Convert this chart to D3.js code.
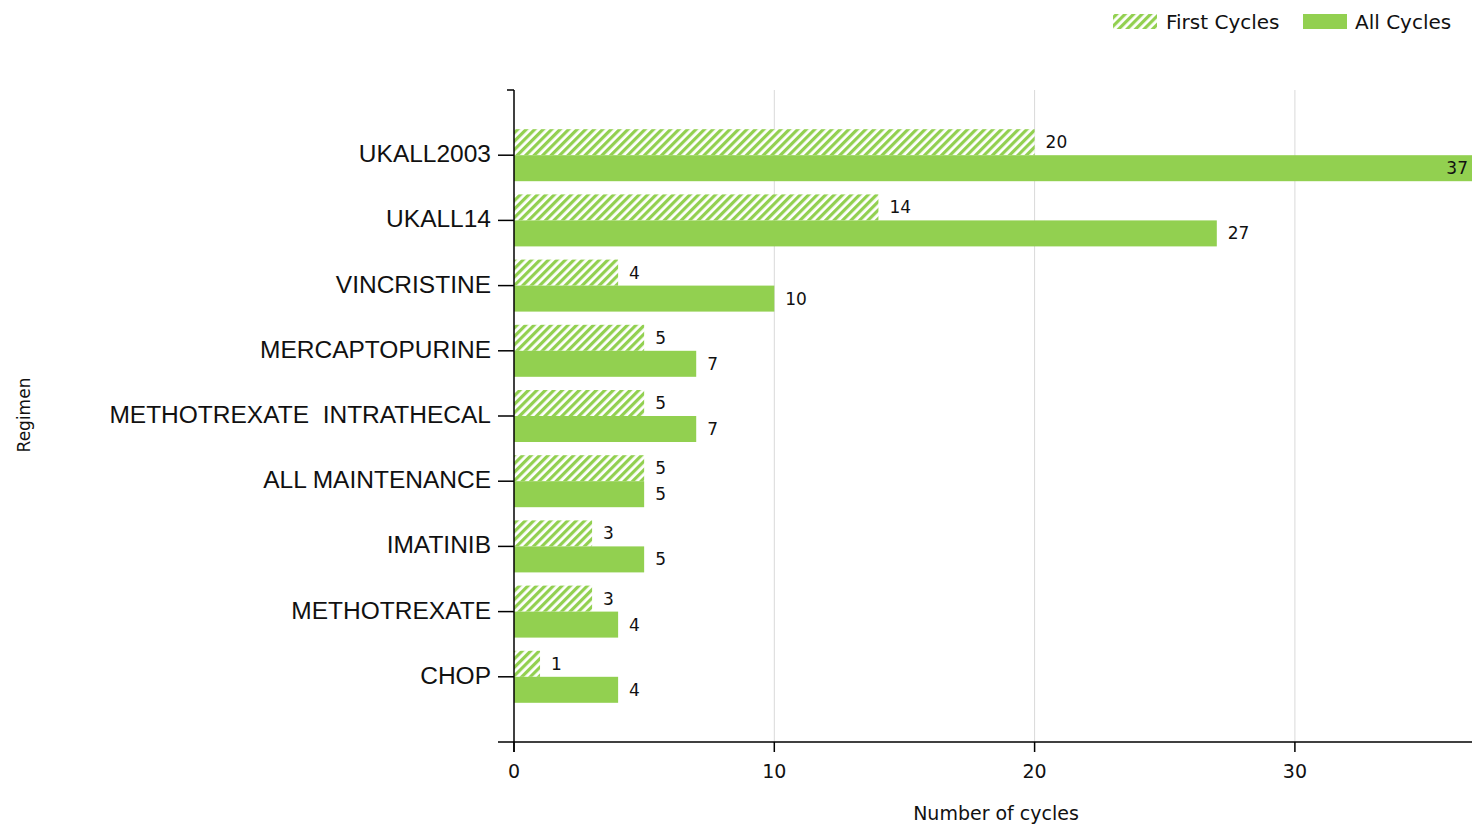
<!DOCTYPE html>
<html lang="en">
<meta charset="utf-8">
<style>
body { margin: 0; background: #fff; }
svg { font-family: "Liberation Sans", Arial, sans-serif; }
.grid line { stroke: #d9d9d9; stroke-width: 1px; }
.dv { font-family: "DejaVu Sans", Verdana, sans-serif; }
</style>
<body>
<script src="https://d3js.org/d3.v7.min.js"></script>
<script>
var regimens = ["UKALL2003", "UKALL14", "VINCRISTINE", "MERCAPTOPURINE", "METHOTREXATE  INTRATHECAL",
                "ALL MAINTENANCE", "IMATINIB", "METHOTREXATE", "CHOP"];
var firstCycles = [20, 14, 4, 5, 5, 5, 3, 3, 1];
var allCycles = [37, 27, 10, 7, 7, 5, 5, 4, 4];
var xTicks = [0, 10, 20, 30];

var W = 1472, H = 825;
var green = "#92d050";

var svg = d3.select("body").append("svg")
    .attr("width", W)
    .attr("height", H);

var defs = svg.append("defs");
var pat = defs.append("pattern")
    .attr("id", "hatch")
    .attr("patternUnits", "userSpaceOnUse")
    .attr("width", 6).attr("height", 6)
    .attr("patternTransform", "rotate(45)");
pat.append("rect").attr("width", 6).attr("height", 6).attr("fill", "#fff");
pat.append("rect").attr("x", 0).attr("width", 3.2).attr("height", 6).attr("fill", green);

// scales
var x = d3.scaleLinear().domain([0, 10]).range([514, 774.3]);
var y = d3.scalePoint().domain(regimens).range([90, 742]).padding(1);
var bh = 26;

// grid
svg.append("g").attr("class", "grid")
  .selectAll("line").data(xTicks.slice(1)).enter().append("line")
    .attr("x1", function(d) { return x(d); }).attr("x2", function(d) { return x(d); })
    .attr("y1", 90).attr("y2", 742);

// clip for bars running off the right edge
defs.append("clipPath").attr("id", "plot")
  .append("rect").attr("x", 514).attr("y", 90).attr("width", W - 514).attr("height", 652);

var bars = svg.append("g").attr("clip-path", "url(#plot)");

bars.selectAll(".first").data(regimens).enter().append("rect")
    .attr("x", x(0))
    .attr("y", function(d) { return y(d) - bh; })
    .attr("width", function(d, i) { return x(firstCycles[i]) - x(0); })
    .attr("height", bh)
    .attr("fill", "url(#hatch)");

bars.selectAll(".all").data(regimens).enter().append("rect")
    .attr("x", x(0))
    .attr("y", function(d) { return y(d); })
    .attr("width", function(d, i) { return x(allCycles[i]) - x(0); })
    .attr("height", bh)
    .attr("fill", green);

// value labels
var lab = svg.append("g").attr("class", "dv").style("font-size", "17px").attr("fill", "#111");
regimens.forEach(function(d, i) {
  lab.append("text")
    .attr("x", x(firstCycles[i]) + 11)
    .attr("y", y(d) - bh / 2)
    .attr("dy", "0.35em")
    .text(firstCycles[i]);
  var xe = x(allCycles[i]);
  var inside = xe + 40 > W;
  lab.append("text")
    .attr("x", inside ? W - 4 : xe + 11)
    .attr("y", y(d) + bh / 2)
    .attr("dy", "0.35em")
    .attr("text-anchor", inside ? "end" : "start")
    .text(allCycles[i]);
});

// axes
var ax = svg.append("g").attr("stroke", "#000").attr("stroke-width", 1.5);
ax.append("line").attr("x1", 514).attr("x2", 514).attr("y1", 90).attr("y2", 752);
ax.append("line").attr("x1", 507).attr("x2", 514).attr("y1", 90).attr("y2", 90);
ax.append("line").attr("x1", 498).attr("x2", W).attr("y1", 742).attr("y2", 742);
ax.selectAll(".yt").data(regimens).enter().append("line")
    .attr("x1", 498).attr("x2", 514)
    .attr("y1", function(d) { return y(d); }).attr("y2", function(d) { return y(d); });
ax.selectAll(".xt").data(xTicks).enter().append("line")
    .attr("x1", function(d) { return x(d); }).attr("x2", function(d) { return x(d); })
    .attr("y1", 742).attr("y2", 752);

svg.append("g").style("font-size", "24.5px").attr("fill", "#111")
  .selectAll("text").data(regimens).enter().append("text")
    .attr("x", 491)
    .attr("y", function(d) { return y(d) - 1.5; })
    .attr("dy", "0.35em")
    .attr("text-anchor", "end")
    .style("white-space", "pre")
    .attr("xml:space", "preserve")
    .text(function(d) { return d; });

svg.append("g").attr("class", "dv").style("font-size", "19px").attr("fill", "#111")
  .selectAll("text").data(xTicks).enter().append("text")
    .attr("x", function(d) { return x(d); })
    .attr("y", 778)
    .attr("text-anchor", "middle")
    .text(function(d) { return d; });

svg.append("text")
    .attr("class", "dv")
    .attr("x", 996).attr("y", 820)
    .attr("text-anchor", "middle")
    .style("font-size", "19px").attr("fill", "#111")
    .text("Number of cycles");

svg.append("text")
    .attr("class", "dv")
    .attr("transform", "translate(30,415) rotate(-90)")
    .attr("text-anchor", "middle")
    .style("font-size", "17px").attr("fill", "#111")
    .text("Regimen");

// legend
var leg = svg.append("g").attr("class", "dv").style("font-size", "20px").attr("fill", "#111");
leg.append("rect").attr("x", 1113).attr("y", 14).attr("width", 44).attr("height", 15).attr("fill", "url(#hatch)");
leg.append("text").attr("x", 1166).attr("y", 22).attr("dy", "0.35em").text("First Cycles");
leg.append("rect").attr("x", 1303).attr("y", 14).attr("width", 44).attr("height", 15).attr("fill", green);
leg.append("text").attr("x", 1355).attr("y", 22).attr("dy", "0.35em").text("All Cycles");
</script>
</body>
</html>
